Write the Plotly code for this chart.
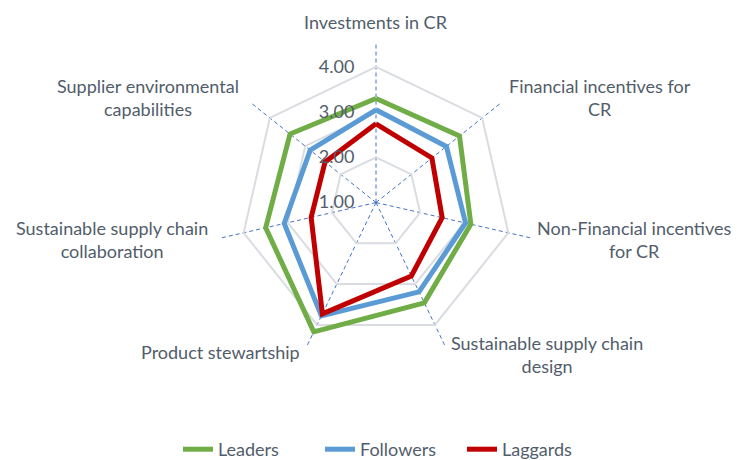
import plotly.graph_objects as go

# axis categories, clockwise from the top
categories = [
    "Investments in CR",
    "Financial incentives for<br>CR",
    "Non-Financial incentives<br>for CR",
    "Sustainable supply chain<br>design",
    "Product stewartship",
    "Sustainable supply chain<br>collaboration",
    "Supplier environmental<br>capabilities",
]

leaders = [3.30, 3.36, 3.15, 3.46, 4.17, 3.50, 3.43]
followers = [3.05, 2.99, 3.03, 3.19, 3.78, 3.08, 2.86]
laggards = [2.74, 2.58, 2.50, 2.80, 3.73, 2.47, 2.44]

radial_ticks = [1, 2, 3, 4]
radial_labels = ["1.00", "2.00", "3.00", "4.00"]

series = [
    ("Leaders", leaders, "#70AD47"),
    ("Followers", followers, "#5B9BD5"),
    ("Laggards", laggards, "#C00000"),
]

# where the category captions sit (pixel centres, like excel puts them)
label_px = [(376, 22), (600, 98), (634, 240), (547, 355),
            (220, 353), (112, 240), (148, 98)]

W, H = 740, 460
OFF = 8  # page body margin

fig = go.Figure()
for name, vals, color in series:
    # close the polygon
    fig.add_trace(go.Scatterpolar(
        r=vals + vals[:1],
        theta=categories + categories[:1],
        mode="lines",
        name=name,
        line=dict(color=color, width=5),
    ))

grey_text = "#525D6B"
font_family = "Lato, Noto Sans, sans-serif"

for text, (px_x, px_y) in zip(categories, label_px):
    fig.add_annotation(
        text=text,
        xref="paper", yref="paper",
        x=(px_x - OFF) / W, y=1 - (px_y - OFF) / H,
        xanchor="center", yanchor="middle",
        align="center",
        showarrow=False,
        font=dict(family=font_family, size=18, color=grey_text),
    )

nb = "\u00a0" * 4
fig.update_layout(
    width=W,
    height=H,
    paper_bgcolor="white",
    plot_bgcolor="white",
    margin=dict(l=0, r=0, t=0, b=0),
    font=dict(family=font_family, size=18, color=grey_text),
    polar=dict(
        domain=dict(x=[0.2797, 0.7149], y=[0.2261, 0.9261]),
        bgcolor="white",
        gridshape="linear",
        radialaxis=dict(
            range=[1, 4.55],
            tickvals=radial_ticks,
            ticktext=[t + nb for t in radial_labels],
            angle=90,
            tickangle=90,
            side="counterclockwise",
            showline=False,
            ticks="",
            gridcolor="#D9DCE1",
            gridwidth=1.6,
            tickfont=dict(size=18, color=grey_text),
        ),
        angularaxis=dict(
            direction="clockwise",
            rotation=90,
            showline=False,
            showticklabels=False,
            ticks="",
            gridcolor="#4472C4",
            gridwidth=1,
            griddash="4px,3px",
        ),
    ),
    legend=dict(
        orientation="h",
        x=(391 - OFF) / W,
        xanchor="center",
        y=1 - (450 - OFF) / H,
        yanchor="middle",
        entrywidth=97,
        font=dict(size=18, color=grey_text),
    ),
)

fig.write_html("out.html")
